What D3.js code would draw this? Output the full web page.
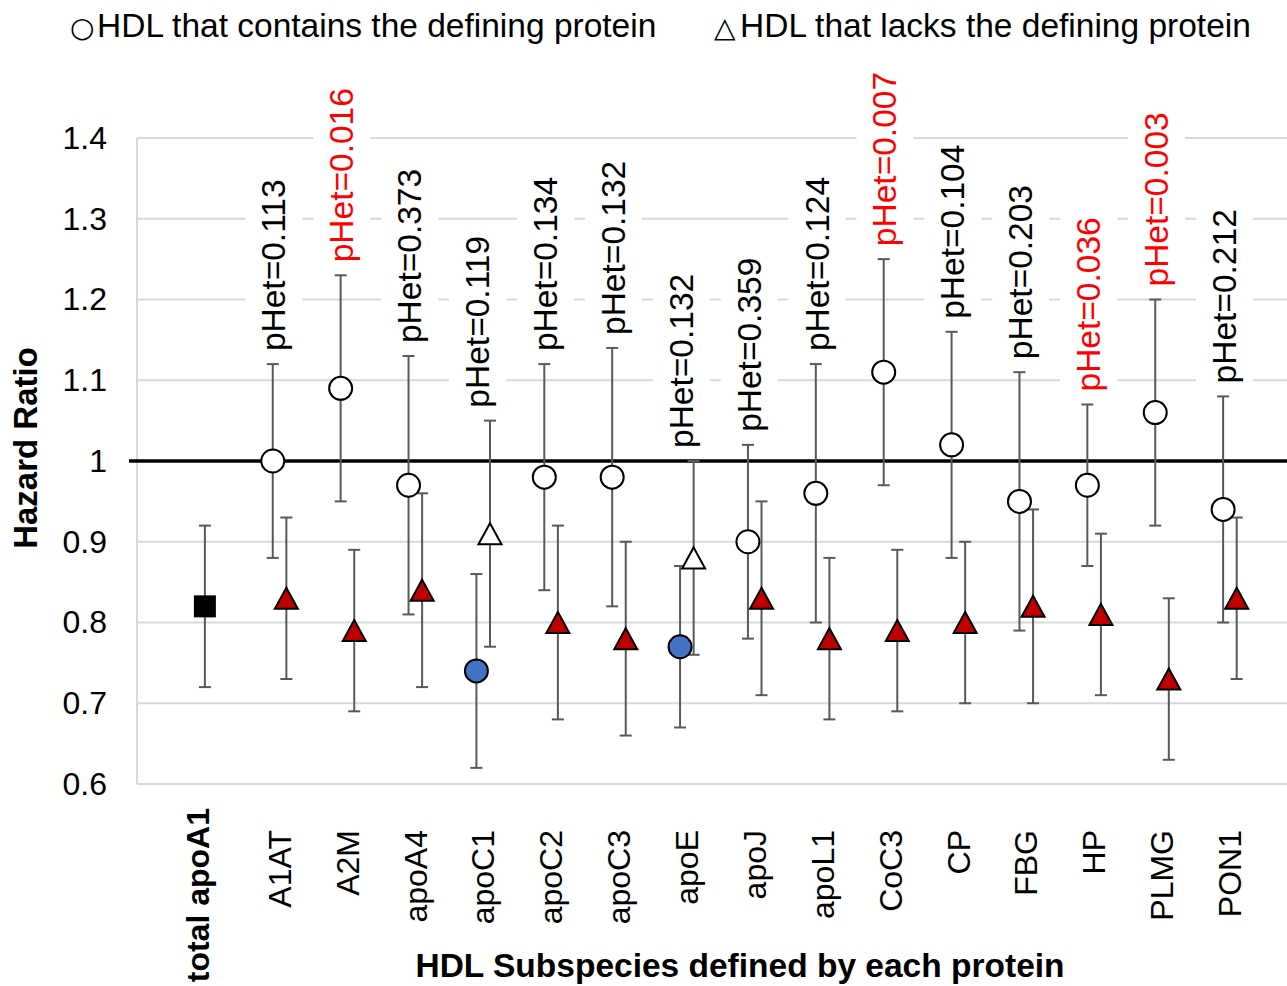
<!DOCTYPE html>
<html>
<head>
<meta charset="utf-8">
<script src="https://cdn.jsdelivr.net/npm/d3@7"></script>
<style>
  body { margin: 0; background: #fff; }
  text { font-family: "Liberation Sans", Arial, sans-serif; }
</style>
</head>
<body>
<svg width="1287" height="986"></svg>
<script>
// HDL subspecies, hazard ratios with 95% CI
var categories = ["total apoA1", "A1AT", "A2M", "apoA4", "apoC1", "apoC2", "apoC3", "apoE",
  "apoJ", "apoL1", "CoC3", "CP", "FBG", "HP", "PLMG", "PON1"];
// HDL that contains the defining protein (first entry = total apoA1)
var containsHR = [0.82, 1.00, 1.09, 0.97, 0.74, 0.98, 0.98, 0.77, 0.90, 0.96, 1.11, 1.02, 0.95, 0.97, 1.06, 0.94];
var containsLo = [0.72, 0.88, 0.95, 0.81, 0.62, 0.84, 0.82, 0.67, 0.78, 0.80, 0.97, 0.88, 0.79, 0.87, 0.92, 0.80];
var containsHi = [0.92, 1.12, 1.23, 1.13, 0.86, 1.12, 1.14, 0.87, 1.02, 1.12, 1.25, 1.16, 1.11, 1.07, 1.20, 1.08];
// HDL that lacks the defining protein
var lacksHR = [null, 0.83, 0.79, 0.84, 0.91, 0.80, 0.78, 0.88, 0.83, 0.78, 0.79, 0.80, 0.82, 0.81, 0.73, 0.83];
var lacksLo = [null, 0.73, 0.69, 0.72, 0.77, 0.68, 0.66, 0.76, 0.71, 0.68, 0.69, 0.70, 0.70, 0.71, 0.63, 0.73];
var lacksHi = [null, 0.93, 0.89, 0.96, 1.05, 0.92, 0.90, 1.00, 0.95, 0.88, 0.89, 0.90, 0.94, 0.91, 0.83, 0.93];
var pHet = [null, 0.113, 0.016, 0.373, 0.119, 0.134, 0.132, 0.132, 0.359, 0.124, 0.007, 0.104, 0.203, 0.036, 0.003, 0.212];
var yTicks = [0.6, 0.7, 0.8, 0.9, 1, 1.1, 1.2, 1.3, 1.4];

var svg = d3.select("svg");
var plotLeft = 137, plotTop = 138, plotBottom = 784;

var x = d3.scaleLinear().domain([0, 17]).range([plotLeft, 1291]);
var y = d3.scaleLinear().domain([0.6, 1.4]).range([plotBottom, plotTop]);

// x position: total apoA1 at 1, circle at i+1, triangle at i+1.2
function xc(i) { return x(i + 1); }
function xt(i) { return x(i + 1.2); }
function xm(i) { return i == 0 ? x(0.9) : x(i + 1.1); }

// gridlines
svg.append("g")
  .selectAll("line")
  .data(yTicks)
  .enter()
  .append("line")
  .attr("x1", plotLeft)
  .attr("x2", 1287)
  .attr("y1", function (d) { return y(d); })
  .attr("y2", function (d) { return y(d); })
  .style("stroke", "#d9d9d9")
  .style("stroke-width", 2);

svg.append("line")
  .attr("x1", plotLeft).attr("x2", plotLeft)
  .attr("y1", plotTop).attr("y2", plotBottom)
  .style("stroke", "#d9d9d9")
  .style("stroke-width", 2);

// y axis
var yAxis = svg.append("g")
  .attr("transform", "translate(" + (plotLeft - 30) + ",0)")
  .call(d3.axisLeft(y).tickValues(yTicks).tickSize(0).tickPadding(0)
    .tickFormat(function (d) { return d == 1 ? "1" : d3.format(".1f")(d); }));
yAxis.select(".domain").remove();
yAxis.selectAll("text")
  .style("font-family", "'Liberation Sans', Arial, sans-serif")
  .style("font-size", "32px")
  .attr("fill", "#000");

// pHet labels with white background
var labelG = svg.append("g");
for (var i = 1; i < categories.length; i++) {
  var yTop = y(Math.max(containsHi[i], lacksHi[i])) - 13;
  var t = labelG.append("text")
    .attr("transform", "translate(" + (xc(i) + 1) + "," + yTop + ")rotate(-90)")
    .attr("dy", "0.35em")
    .style("font-size", "33.5px")
    .style("fill", pHet[i] < 0.05 ? "#ff0000" : "#000")
    .text("pHet=" + d3.format(".3f")(pHet[i]));
  var bb = t.node().getBBox();
  labelG.insert("rect", "text")
    .attr("transform", "translate(" + (xc(i) + 1) + "," + yTop + ")rotate(-90)")
    .attr("x", bb.x - 4)
    .attr("y", bb.y - 10)
    .attr("width", bb.width + 8)
    .attr("height", bb.height + 20)
    .style("fill", "#fff");
}

// reference line at 1
svg.append("line")
  .attr("x1", 129).attr("x2", 1287)
  .attr("y1", y(1)).attr("y2", y(1))
  .style("stroke", "#000")
  .style("stroke-width", 3.5);

// error bars
function errorBar(g, xp, lo, hi) {
  g.append("line")
    .attr("x1", xp).attr("x2", xp)
    .attr("y1", y(lo)).attr("y2", y(hi))
    .style("stroke", "#595959").style("stroke-width", 2);
  [lo, hi].forEach(function (v) {
    g.append("line")
      .attr("x1", xp - 6).attr("x2", xp + 6)
      .attr("y1", y(v)).attr("y2", y(v))
      .style("stroke", "#595959").style("stroke-width", 2);
  });
}
var bars = svg.append("g");
for (var i = 0; i < categories.length; i++) {
  errorBar(bars, xc(i), containsLo[i], containsHi[i]);
  if (lacksHR[i] != null) errorBar(bars, xt(i), lacksLo[i], lacksHi[i]);
}

// markers
var marks = svg.append("g");
marks.append("rect")
  .attr("x", xc(0) - 11).attr("y", y(containsHR[0]) - 11)
  .attr("width", 22).attr("height", 22)
  .style("fill", "#000");

for (var i = 1; i < categories.length; i++) {
  marks.append("circle")
    .attr("cx", xc(i)).attr("cy", y(containsHR[i]))
    .attr("r", 11.5)
    .style("fill", containsHi[i] < 1 ? "#4472c4" : "#fff")
    .style("stroke", "#000").style("stroke-width", 2);
  var tx = xt(i), ty = y(lacksHR[i]);
  marks.append("path")
    .attr("d", "M" + tx + "," + (ty - 10.5) + "L" + (tx + 11.5) + "," + (ty + 10.5) +
      "L" + (tx - 11.5) + "," + (ty + 10.5) + "Z")
    .style("fill", lacksHi[i] < 1 ? "#c00000" : "#fff")
    .style("stroke", "#000").style("stroke-width", 2)
    .style("stroke-linejoin", "miter");
}

// category labels
svg.append("g")
  .selectAll("text")
  .data(categories)
  .enter()
  .append("text")
  .attr("transform", function (d, i) {
    return "translate(" + xm(i) + "," + (i == 0 ? 808 : 830) + ")rotate(-90)";
  })
  .attr("dy", "0.35em")
  .attr("text-anchor", "end")
  .style("font-size", "32px")
  .style("font-weight", function (d, i) { return i == 0 ? "bold" : "normal"; })
  .text(function (d) { return d; });

// axis titles
svg.append("text")
  .attr("transform", "translate(37,448)rotate(-90)")
  .attr("text-anchor", "middle")
  .style("font-size", "33px")
  .style("font-weight", "bold")
  .text("Hazard Ratio");

svg.append("text")
  .attr("x", 740)
  .attr("y", 977)
  .attr("text-anchor", "middle")
  .style("font-size", "33.5px")
  .style("font-weight", "bold")
  .text("HDL Subspecies defined by each protein");

// legend
var leg = svg.append("text").attr("y", 37).style("font-size", "33.5px");
leg.append("tspan").attr("x", 70).style("font-family", "'DejaVu Sans'").style("font-size", "28px").text("○");
leg.append("tspan").attr("x", 97).text("HDL that contains the defining protein");
var leg2 = svg.append("text").attr("y", 37).style("font-size", "33.5px");
leg2.append("tspan").attr("x", 714).style("font-family", "'DejaVu Sans'").style("font-size", "28px").text("△");
leg2.append("tspan").attr("x", 740).text("HDL that lacks the defining protein");
</script>
</body>
</html>
